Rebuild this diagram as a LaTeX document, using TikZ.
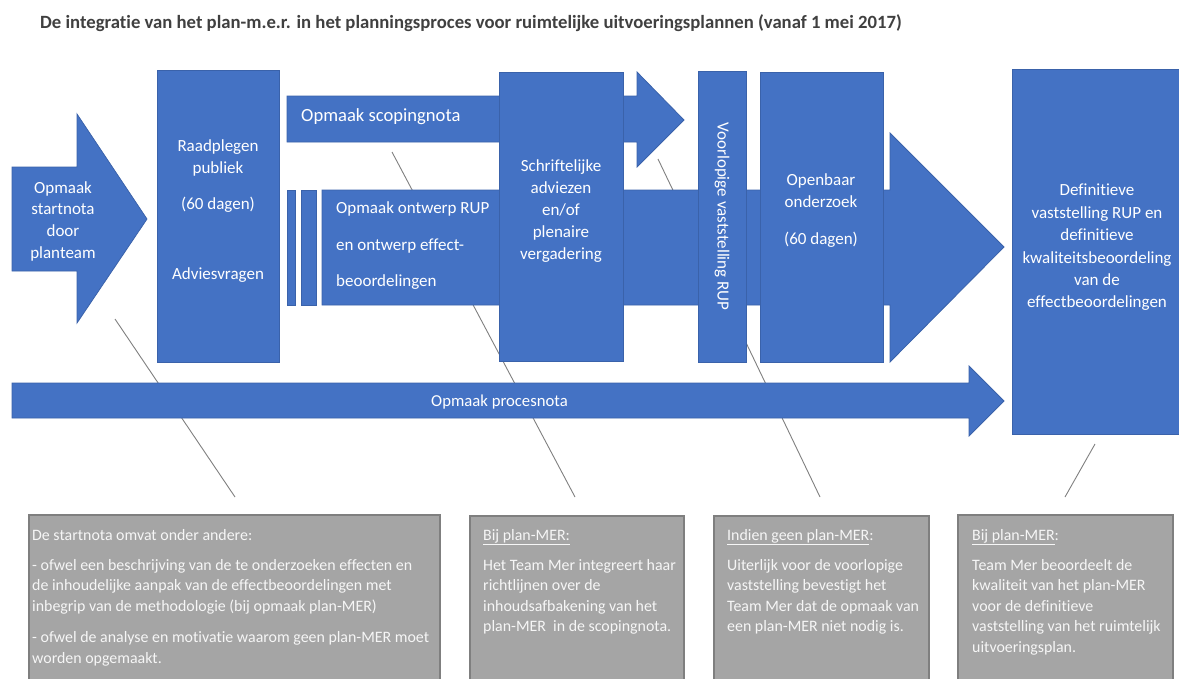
\documentclass[tikz,border=0pt]{standalone}
\usepackage{fontspec}
\setmainfont{Carlito}[Ligatures=NoCommon]
\definecolor{blu}{HTML}{4472C4}
\definecolor{bluedge}{HTML}{3A62AA}
\definecolor{graybox}{HTML}{A5A5A5}
\definecolor{grayedge}{HTML}{7F7F7F}
\definecolor{graytext}{HTML}{F6F6F6}
\definecolor{titlec}{HTML}{404040}
\definecolor{linec}{HTML}{808080}
\tikzset{
  bluebox/.style={fill=blu, draw=bluedge, line width=0.8pt},
  bluerect/.style={bluebox, rectangle, inner sep=0pt, anchor=north west},
  graycard/.style={fill=graybox, draw=grayedge, line width=1.5pt, rectangle, inner sep=0pt, anchor=north west},
  bluetext/.style={text=white, font=\fontsize{17}{22}\selectfont, inner sep=0pt, align=center},
  graytxt/.style={text=graytext, font=\fontsize{15.9}{20.5}\selectfont, inner sep=0pt, align=left, anchor=north west},
  callout/.style={draw=linec, line width=0.9pt},
}
\begin{document}
\begin{tikzpicture}[x=1pt,y=-1pt]
\useasboundingbox[fill=white] (0,0) rectangle (1179,678);

% title
\node[anchor=base west, inner sep=0pt, text=titlec, font=\fontsize{18.7}{22}\selectfont\bfseries] (title) at (40,28)
  {De integratie van het plan-m.e.r. in het planningsproces voor ruimtelijke uitvoeringsplannen (vanaf 1 mei 2017)};

% callout lines (behind shapes)
\coordinate (c1a) at (115,319); \coordinate (c1b) at (235,497);
\coordinate (c2a) at (392,152); \coordinate (c2b) at (575,497);
\coordinate (c3a) at (658,159); \coordinate (c3b) at (820,497);
\coordinate (c4a) at (1095,444); \coordinate (c4b) at (1065,497);
\draw[callout] (c1a) -- (c1b);
\draw[callout] (c2a) -- (c2b);
\draw[callout] (c3a) -- (c3b);
\draw[callout] (c4a) -- (c4b);

% startnota arrow
\draw[bluebox] (12,167) -- (77,167) -- (77,114) -- (147,219) -- (77,323) -- (77,271) -- (12,271) -- cycle;
\node[bluetext, anchor=north] (startnota) at (63,181) {Opmaak\\[-0.3pt]startnota\\[-0.3pt]door\\[-0.3pt]planteam};

% scopingnota arrow
\draw[bluebox] (287,96) -- (637,96) -- (637,72) -- (684,120) -- (637,167) -- (637,142) -- (287,142) -- cycle;
\node[bluetext, anchor=base west, font=\fontsize{18.6}{22}\selectfont] (scoping) at (301,121) {Opmaak scopingnota};

% ontwerp arrow and bars
\draw[bluebox] (322,190) -- (890,190) -- (890,133) -- (1004,247) -- (890,362) -- (890,305) -- (322,305) -- cycle;
\node[bluerect, minimum width=8pt, minimum height=115pt] (bar1) at (287,190) {};
\node[bluerect, minimum width=15pt, minimum height=115pt] (bar2) at (301,190) {};
\node[bluetext, anchor=north west, align=left, font=\fontsize{17}{36.5}\selectfont] (ontwerp) at (336,201.5)
  {Opmaak ontwerp RUP\\en ontwerp effect-\\beoordelingen};

% raadplegen box
\node[bluerect, minimum width=122pt, minimum height=292pt] (raad) at (157,70) {};
\node[bluetext, anchor=north] (raadtxt) at (218,139) {Raadplegen\\publiek\\[14pt](60 dagen)\\[48pt]Adviesvragen};

% schriftelijke box
\node[bluerect, minimum width=124pt, minimum height=289pt] (schrift) at (499,72) {};
\node[bluetext, anchor=north] (schrifttxt) at (561,159.5) {Schriftelijke\\adviezen\\en/of\\plenaire\\vergadering};

% voorlopige box
\node[bluerect, minimum width=48pt, minimum height=291pt] (voorl) at (698,71) {};
\node[bluetext, rotate=-90] (voorltxt) at (722,216.5) {Voorlopige vaststelling RUP};

% openbaar box
\node[bluerect, minimum width=123pt, minimum height=290pt] (openb) at (760,72) {};
\node[bluetext, anchor=north] (openbtxt) at (821,173.5) {Openbaar\\onderzoek\\[15pt](60 dagen)};

% procesnota arrow
\draw[bluebox] (12,383) -- (969,383) -- (969,366) -- (1004,401) -- (969,436) -- (969,418) -- (12,418) -- cycle;
\node[bluetext, font=\fontsize{16.7}{18}\selectfont] (procesnota) at (499.5,402) {Opmaak procesnota};

% definitieve box
\node[bluerect, minimum width=173pt, minimum height=365pt] (defin) at (1012,69) {};
\node[bluetext, anchor=north, font=\fontsize{17}{22.4}\selectfont] (defintxt) at (1097,184)
  {Definitieve\\vaststelling RUP en\\definitieve\\kwaliteitsbeoordeling\\van de\\effectbeoordelingen};

% gray cards
\node[graycard, minimum width=411pt, minimum height=170pt] (card1) at (28,514) {};
\node[graytxt] (card1txt) at (32,529)
  {De startnota omvat onder andere:\\[9.5pt]
   - ofwel een beschrijving van de te onderzoeken effecten en\\
   de inhoudelijke aanpak van de effectbeoordelingen met\\
   inbegrip van de methodologie (bij opmaak plan-MER)\\[11pt]
   - ofwel de analyse en motivatie waarom geen plan-MER moet\\
   worden opgemaakt.};

\node[graycard, minimum width=214pt, minimum height=170pt] (card2) at (469,515) {};
\node[graytxt] (card2txt) at (483,529)
  {\underline{Bij plan-MER:}\\[9.5pt]
   Het Team Mer integreert haar\\
   richtlijnen over de\\
   inhoudsafbakening van het\\
   plan-MER\ \ in de scopingnota.};

\node[graycard, minimum width=215pt, minimum height=170pt] (card3) at (713,515) {};
\node[graytxt] (card3txt) at (727,529)
  {\underline{Indien geen plan-MER}:\\[9.5pt]
   Uiterlijk voor de voorlopige\\
   vaststelling bevestigt het\\
   Team Mer dat de opmaak van\\
   een plan-MER niet nodig is.};

\node[graycard, minimum width=215pt, minimum height=170pt] (card4) at (957,514) {};
\node[graytxt] (card4txt) at (972,529)
  {\underline{Bij plan-MER}:\\[9.5pt]
   Team Mer beoordeelt de\\
   kwaliteit van het plan-MER\\
   voor de definitieve\\
   vaststelling van het ruimtelijk\\
   uitvoeringsplan.};
\end{tikzpicture}
\end{document}
